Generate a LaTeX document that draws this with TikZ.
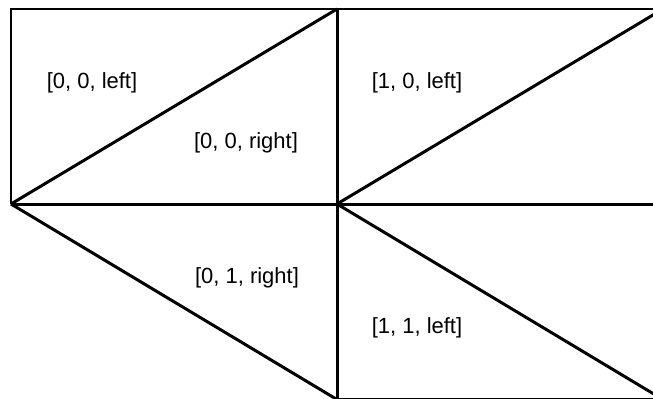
\documentclass[tikz,border=0pt]{standalone}
\usepackage{fontspec}
\setmainfont{Liberation Sans}
\tikzset{
  edge/.style={line width=1.7pt, line join=miter, black},
  tlabel/.style={font=\fontsize{12.5}{15}\selectfont, inner sep=0pt}
}
\begin{document}
\begin{tikzpicture}
\useasboundingbox (-0.22,0.18) rectangle (12.84,-7.78);
\clip (-0.22,0.18) rectangle (12.84,-7.78);
% grid corners, (column,row)
\coordinate (g00) at (0,0);
\coordinate (g10) at (6.52,0);
\coordinate (g20) at (13.04,0);
\coordinate (g01) at (0,-3.9);
\coordinate (g11) at (6.52,-3.9);
\coordinate (g21) at (13.04,-3.9);
\coordinate (g12) at (6.52,-7.81);
\coordinate (g22) at (13.04,-7.81);
% cell edges
\draw[edge] (g01) -- (g00) -- (g20);
\draw[edge] (g10) -- (g12) -- (g22);
\draw[edge] (g01) -- (g21);
% diagonals
\draw[edge] (g01) -- (g10);
\draw[edge] (g11) -- (g20);
\draw[edge] (g01) -- (g12);
\draw[edge] (g11) -- (g22);
% triangle names
\node[tlabel] (t00l) at (1.62,-1.48) {[0, 0, left]};
\node[tlabel] (t00r) at (4.70,-2.68) {[0, 0, right]};
\node[tlabel] (t10l) at (8.12,-1.48) {[1, 0, left]};
\node[tlabel] (t01r) at (4.72,-5.38) {[0, 1, right]};
\node[tlabel] (t11l) at (8.12,-6.38) {[1, 1, left]};
\end{tikzpicture}
\end{document}
